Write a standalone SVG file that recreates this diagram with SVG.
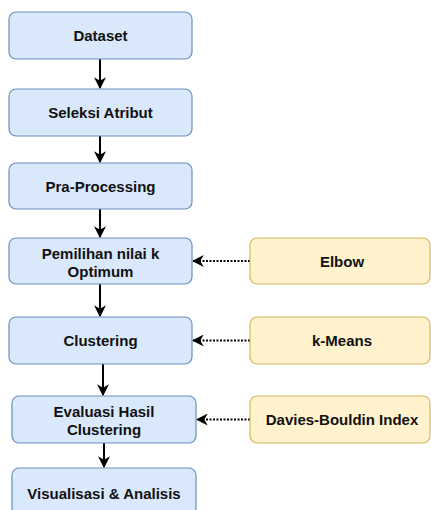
<svg xmlns="http://www.w3.org/2000/svg" width="431" height="510" viewBox="0 0 431 510">
  <defs>
    <style>
      .step { fill: #dae8fc; stroke: #6c8ebf; stroke-width: 1.2; }
      .method { fill: #fff2cc; stroke: #d6b656; stroke-width: 1.2; }
      .label { font-family: "Liberation Sans", Arial, sans-serif; font-size: 15px; font-weight: bold; fill: #111; text-anchor: middle; }
      .flow { stroke: #000; stroke-width: 2; fill: none; }
      .dotted { stroke: #000; stroke-width: 2; fill: none; stroke-dasharray: 2 1.5; }
    </style>
    <marker id="head" viewBox="0 0 10 10" refX="9" refY="5" markerWidth="6" markerHeight="6" markerUnits="strokeWidth" orient="auto">
      <path d="M0,0 L10,5 L0,10 L3,5 Z" fill="#000"/>
    </marker>
  </defs>

  <g id="connectors">
    <line class="flow" x1="100" y1="59" x2="100" y2="88" marker-end="url(#head)"/>
    <line class="flow" x1="100" y1="136" x2="100" y2="162" marker-end="url(#head)"/>
    <line class="flow" x1="100" y1="209" x2="100" y2="237" marker-end="url(#head)"/>
    <line class="flow" x1="100" y1="284" x2="100" y2="316" marker-end="url(#head)"/>
    <line class="flow" x1="103" y1="364" x2="103" y2="395" marker-end="url(#head)"/>
    <line class="flow" x1="104" y1="443" x2="104" y2="467" marker-end="url(#head)"/>
    <line class="dotted" x1="250" y1="261" x2="193" y2="261" marker-end="url(#head)"/>
    <line class="dotted" x1="250" y1="340.5" x2="193" y2="340.5" marker-end="url(#head)"/>
    <line class="dotted" x1="250" y1="419.5" x2="197" y2="419.5" marker-end="url(#head)"/>
  </g>

  <g id="dataset">
    <rect class="step" x="9" y="12" width="183" height="47" rx="7"/>
    <text class="label" x="100.5" y="41">Dataset</text>
  </g>
  <g id="seleksi-atribut">
    <rect class="step" x="9" y="89" width="183" height="47" rx="7"/>
    <text class="label" x="100.5" y="118">Seleksi Atribut</text>
  </g>
  <g id="pra-processing">
    <rect class="step" x="9" y="163" width="183" height="46" rx="7"/>
    <text class="label" x="100.5" y="191.5">Pra-Processing</text>
  </g>
  <g id="pemilihan-k">
    <rect class="step" x="9" y="238" width="183" height="46" rx="7"/>
    <text class="label" x="100.5" y="258.5">Pemilihan nilai k</text>
    <text class="label" x="100.5" y="276.5">Optimum</text>
  </g>
  <g id="clustering">
    <rect class="step" x="9" y="317" width="183" height="47" rx="7"/>
    <text class="label" x="100.5" y="346">Clustering</text>
  </g>
  <g id="evaluasi">
    <rect class="step" x="12" y="396" width="184" height="47" rx="7"/>
    <text class="label" x="104" y="416.5">Evaluasi Hasil</text>
    <text class="label" x="104" y="435">Clustering</text>
  </g>
  <g id="visualisasi">
    <rect class="step" x="12" y="468" width="184" height="47" rx="7"/>
    <text class="label" x="104" y="498.5">Visualisasi &amp; Analisis</text>
  </g>

  <g id="elbow">
    <rect class="method" x="250" y="238" width="180" height="46" rx="7"/>
    <text class="label" x="342" y="266.5">Elbow</text>
  </g>
  <g id="k-means">
    <rect class="method" x="250" y="317" width="180" height="47" rx="7"/>
    <text class="label" x="342" y="346">k-Means</text>
  </g>
  <g id="davies-bouldin">
    <rect class="method" x="250" y="396" width="180" height="47" rx="7"/>
    <text class="label" x="342" y="425">Davies-Bouldin Index</text>
  </g>
</svg>
